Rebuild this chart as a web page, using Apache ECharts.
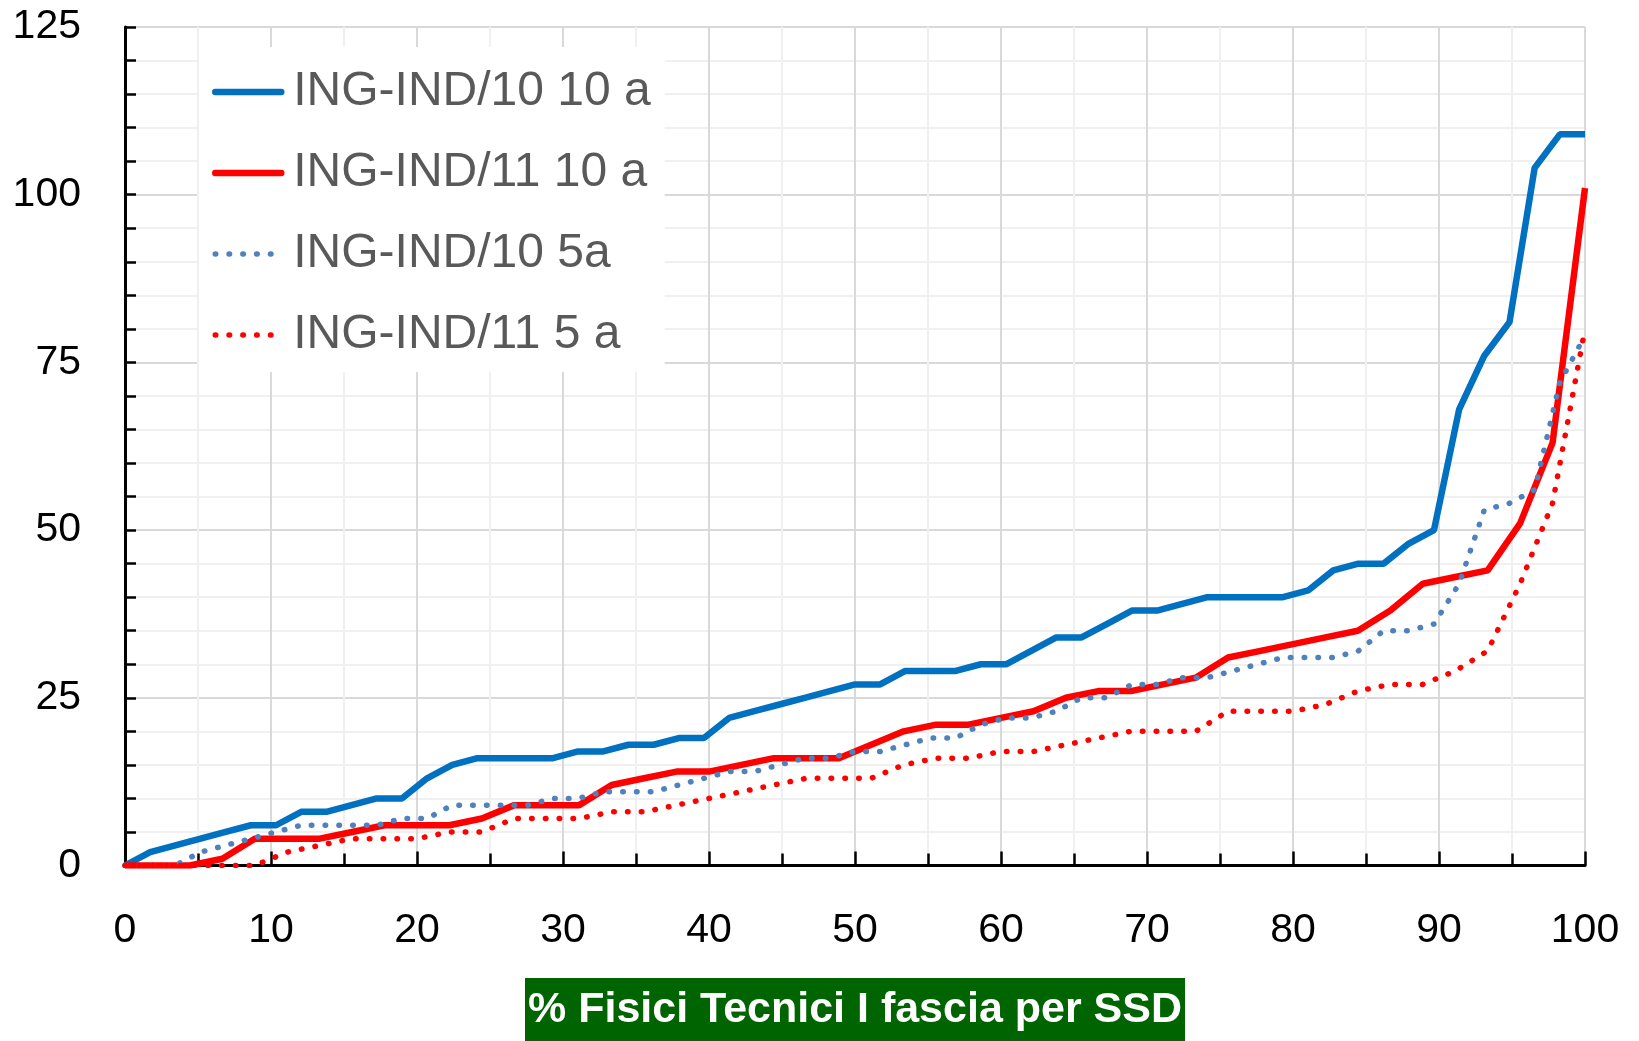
<!DOCTYPE html>
<html>
<head>
<meta charset="utf-8">
<title>Fisici Tecnici I fascia</title>
<script src="https://cdn.jsdelivr.net/npm/echarts@6/dist/echarts.min.js"></script>
<style>
  html, body { margin: 0; padding: 0; background: #fff; }
  #main { width: 1639px; height: 1041px; }
</style>
</head>
<body>
<div id="main"></div>
<script>
// valori ordinati per SSD (uno per docente)
const ind10Anni10 = [0, 2, 3, 4, 5, 6, 6, 8, 8, 9, 10, 10, 13, 15, 16, 16, 16, 16, 17, 17,
  18, 18, 19, 19, 22, 23, 24, 25, 26, 27, 27, 29, 29, 29, 30, 30, 32, 34, 34, 36,
  38, 38, 39, 40, 40, 40, 40, 41, 44, 45, 45, 48, 50, 68, 76, 81, 104, 109, 109]
const ind11Anni10 = [0, 0, 0, 1, 4, 4, 4, 5, 6, 6, 6, 7, 9, 9, 9, 12, 13, 14, 14, 15,
  16, 16, 16, 18, 20, 21, 21, 22, 23, 25, 26, 26, 27, 28, 31, 32, 33, 34, 35, 38,
  42, 43, 44, 51, 63, 101]
const ind10Anni5 = [0, 0, 0, 2, 3, 4, 5, 6, 6, 6, 6, 7, 7, 9, 9, 9, 9, 10, 10, 11,
  11, 11, 12, 13, 14, 14, 15, 16, 16, 17, 17, 18, 19, 19, 21, 22, 22, 23, 25, 25,
  27, 27, 28, 28, 29, 30, 31, 31, 31, 32, 35, 35, 36, 42, 53, 54, 56, 72, 79]
const ind11Anni5 = [0, 0, 0, 0, 0, 2, 3, 4, 4, 4, 5, 5, 7, 7, 7, 8, 8, 9, 10, 11,
  12, 13, 13, 13, 15, 16, 16, 17, 17, 18, 19, 20, 20, 20, 23, 23, 23, 24, 26, 27,
  27, 29, 32, 42, 54, 80]

const seriesNames = ['ING-IND/10 10 a', 'ING-IND/11 10 a', 'ING-IND/10 5a', 'ING-IND/11 5 a']
const xTicks = { min: 0, max: 100, step: 10 }
const yTicks = { min: 0, max: 125, step: 25 }
const xTitle = '% Fisici Tecnici I fascia per SSD'

const FONT = "'Liberation Sans', Arial, sans-serif"
const SOLID_W = 6.5
const DOT_W = 5.5

// ascissa = posizione percentuale del docente nel proprio SSD
function toPoints (values) {
  const n = values.length - 1
  return values.map((v, i) => [i * 100 / n, v])
}

function lineStyleFor (color, dotted) {
  if (dotted) {
    return { width: DOT_W, color: color, type: [0.5, 13.3], cap: 'round' }
  }
  return { width: SOLID_W, color: color }
}

function lineSerie (name, values, color, dotted) {
  return {
    name: name,
    type: 'line',
    data: toPoints(values),
    symbol: 'none',
    itemStyle: { color: color },
    lineStyle: lineStyleFor(color, dotted)
  }
}

const colors = ['#0070C0', '#FF0000', '#4F81BD', '#FF0000']
const dotted = [false, false, true, true]

const chart = echarts.init(document.getElementById('main'))
chart.setOption({
  animation: false,
  backgroundColor: '#fff',
  title: {
    text: xTitle,
    left: 525,
    top: 978,
    padding: [11, 3, 15, 3],
    backgroundColor: '#006400',
    textStyle: { color: '#fff', fontWeight: 'bold', fontSize: 43, fontFamily: FONT }
  },
  legend: {
    orient: 'vertical',
    left: 199,
    top: 47,
    padding: [21, 14, 13, 13],
    backgroundColor: '#fff',
    itemWidth: 66,
    itemHeight: 14,
    itemGap: 33,
    // icona solo linea, senza simbolo
    itemStyle: { opacity: 0 },
    data: seriesNames.map((name, i) => ({
      name: name,
      lineStyle: { width: dotted[i] ? DOT_W : SOLID_W, cap: 'round' }
    })),
    textStyle: { color: '#595959', fontSize: 48, fontFamily: FONT, padding: [0, 0, 0, 7] }
  },
  grid: { left: 125, right: 54, top: 27, bottom: 175.5, containLabel: false },
  xAxis: {
    type: 'value',
    min: xTicks.min,
    max: xTicks.max,
    interval: xTicks.step,
    axisLine: { show: true, lineStyle: { color: '#000', width: 3 } },
    axisTick: { show: true, inside: true, length: 14, lineStyle: { color: '#000', width: 2.5 } },
    minorTick: { show: true, splitNumber: 2, length: 12, lineStyle: { color: '#000', width: 2.5 } },
    splitLine: { show: true, lineStyle: { color: '#D9D9D9', width: 2 } },
    minorSplitLine: { show: true, lineStyle: { color: '#F0F0F0', width: 2 } },
    axisLabel: { color: '#000', fontSize: 41, fontFamily: FONT, margin: 45 }
  },
  yAxis: {
    type: 'value',
    min: yTicks.min,
    max: yTicks.max,
    interval: yTicks.step,
    axisLine: { show: true, lineStyle: { color: '#000', width: 3 } },
    axisTick: { show: true, inside: true, length: 11, lineStyle: { color: '#000', width: 2.5 } },
    minorTick: { show: true, splitNumber: 5, length: 11, lineStyle: { color: '#000', width: 2.5 } },
    splitLine: { show: true, lineStyle: { color: '#D9D9D9', width: 2 } },
    minorSplitLine: { show: true, lineStyle: { color: '#F0F0F0', width: 2 } },
    axisLabel: { color: '#000', fontSize: 41, fontFamily: FONT, margin: 44 }
  },
  series: [
    lineSerie(seriesNames[0], ind10Anni10, colors[0], dotted[0]),
    lineSerie(seriesNames[1], ind11Anni10, colors[1], dotted[1]),
    lineSerie(seriesNames[2], ind10Anni5, colors[2], dotted[2]),
    lineSerie(seriesNames[3], ind11Anni5, colors[3], dotted[3])
  ]
})
</script>
</body>
</html>
